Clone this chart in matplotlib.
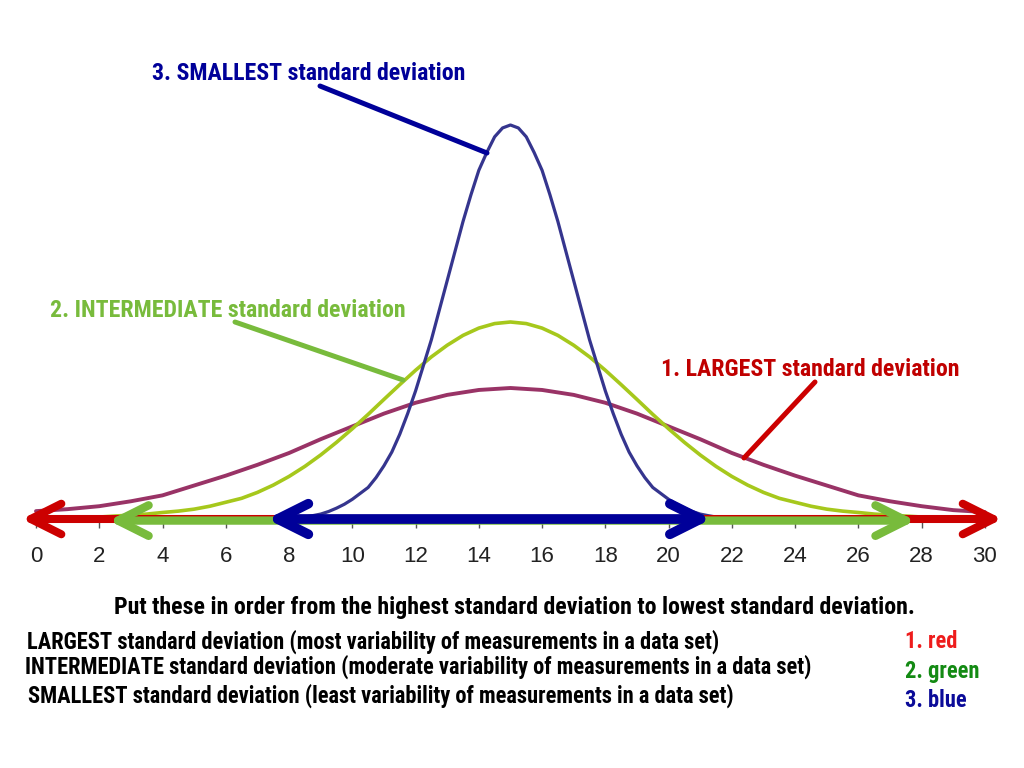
import matplotlib
matplotlib.use('Agg')
import matplotlib.pyplot as plt
import numpy as np
from matplotlib import font_manager
from matplotlib.font_manager import FontProperties
from matplotlib.textpath import TextPath
from matplotlib.patches import FancyArrowPatch

# look for a condensed face (the slide uses a narrow bold sans)
fonts = font_manager.fontManager.ttflist
def is_bold(f):
    w = f.weight
    return (w in ('bold', 'heavy', 'black', 'demibold')) or (isinstance(w, int) and w >= 600)
def is_narrow(f):
    return ('Narrow' in f.name or 'Condensed' in f.name
            or f.stretch in ('condensed', 'semi-condensed', 'extra-condensed', 'ultra-condensed')
            or (isinstance(f.stretch, int) and f.stretch < 500))
def pick(bold):
    hits = [f for f in fonts if is_narrow(f) and is_bold(f) == bold and f.style == 'normal']
    for pref in ['Liberation Sans Narrow', 'Roboto Condensed', 'Open Sans', 'DejaVu Sans']:
        for f in hits:
            if f.name.startswith(pref):
                return FontProperties(fname=f.fname)
    if hits:
        return FontProperties(fname=hits[0].fname)
    return FontProperties(family='Liberation Sans', weight='bold' if bold else 'normal')

fp_bold = pick(True)
fp_tick = FontProperties(family='Liberation Sans')

# ---- data ----
x_red = np.arange(0, 31, 1)
red_curve = [0.4, 0.5, 0.65, 0.9, 1.2, 1.7, 2.2, 2.75, 3.35, 4.05, 4.7, 5.35, 5.9, 6.3, 6.55, 6.65,
             6.55, 6.3, 5.9, 5.35, 4.7, 4.05, 3.35, 2.75, 2.2, 1.7, 1.2, 0.9, 0.65, 0.45, 0.35]
x_green = np.arange(0, 30.5, 0.5)
green_curve = [0.05, 0.05, 0.05, 0.08, 0.1, 0.15, 0.2, 0.25, 0.33, 0.4, 0.5, 0.65, 0.85, 1.05, 1.35,
               1.72, 2.16, 2.67, 3.25, 3.89, 4.58, 5.31, 6.07, 6.82, 7.55, 8.23, 8.82, 9.32, 9.69, 9.92,
               10.0,
               9.92, 9.69, 9.32, 8.82, 8.23, 7.55, 6.82, 6.07, 5.31, 4.58, 3.89, 3.25, 2.67, 2.16, 1.72,
               1.35, 1.05, 0.85, 0.65, 0.5, 0.4, 0.33, 0.25, 0.2, 0.15, 0.1, 0.08, 0.05, 0.05, 0.05]
x_blue = np.arange(8, 22.25, 0.25)
blue_curve = [0.05, 0.07, 0.1, 0.17, 0.25, 0.38, 0.55, 0.75, 1.0, 1.3, 1.6, 2.1, 2.7, 3.4, 4.3,
              5.35, 6.5, 7.8, 9.1, 10.6, 12.1, 13.6, 15.1, 16.45, 17.7, 18.6, 19.4, 19.85,
              20.0,
              19.85, 19.4, 18.6, 17.7, 16.45, 15.1, 13.6, 12.1, 10.6, 9.1, 7.8, 6.5, 5.35,
              4.3, 3.4, 2.7, 2.1, 1.6, 1.3, 1.0, 0.75, 0.55, 0.38, 0.25, 0.17, 0.1, 0.07, 0.05]

# arrow spans (start, end, height)
red_span = (-0.45, 30.55, 0.0)
green_span = (2.3, 27.8, -0.08)
blue_span = (7.3, 21.35, 0.0)

xticks = list(range(0, 31, 2))

c_red_curve = '#993366'
c_green_curve = '#a6c81c'
c_blue_curve = '#35358e'
c_red = '#cc0000'
c_green = '#78bb3c'
c_blue = '#000099'

# pixel layout helpers (figure is 1024x768, axes fills it)
X0, SX = 36.0, 31.63
Y0, SY = 519.0, 19.7
def px2x(p): return (p - X0) / SX
def px2y(p): return (Y0 - p) / SY

fig = plt.figure(figsize=(10.24, 7.68), dpi=100, facecolor='w')
ax = fig.add_axes([0, 0, 1, 1])
ax.set_xlim(px2x(0), px2x(1024))
ax.set_ylim(px2y(768), px2y(0))

# curves
ax.plot(x_red, red_curve, color=c_red_curve, lw=2.8, solid_capstyle='round', zorder=3)
ax.plot(x_green, green_curve, color=c_green_curve, lw=2.6, solid_capstyle='round', zorder=3)
ax.plot(x_blue, blue_curve, color=c_blue_curve, lw=2.3, solid_capstyle='round', zorder=3)

# double arrows on the axis
def dbl_arrow(span, color, lw, z):
    a = FancyArrowPatch((span[0], span[2]), (span[1], span[2]),
                        arrowstyle='<->,head_length=22,head_width=11', mutation_scale=1,
                        lw=lw, color=color, shrinkA=0, shrinkB=0,
                        capstyle='round', joinstyle='round', zorder=z)
    ax.add_patch(a)

dbl_arrow(red_span, c_red, 5.8, 5)
dbl_arrow(green_span, c_green, 6.0, 6)
dbl_arrow(blue_span, c_blue, 7.0, 7)

# axis / ticks
for s in ['top', 'right', 'left']:
    ax.spines[s].set_visible(False)
ax.spines['bottom'].set_position(('data', 0))
ax.spines['bottom'].set_color('none')
ax.set_yticks([])
ax.set_xticks(xticks)
ax.set_xticklabels([str(v) for v in xticks], fontproperties=fp_tick, color='#222222')
for t in ax.get_xticklabels():
    t.set_fontsize(16)
ax.tick_params(axis='x', length=6.5, width=1, color='#555555', pad=13)

# labels: fit to the reference width, but never taller than its cap height
renderer = fig.canvas.get_renderer()
cap_ratio = TextPath((0, 0), 'H', size=100, prop=fp_bold).get_extents().height / 100.0
def label(txt, left, base, width, color, cap=17, center=False):
    xpos = left + width / 2 if center else left
    t = ax.text(px2x(xpos), px2y(base), txt, ha='center' if center else 'left',
                va='baseline', color=color, fontproperties=fp_bold, zorder=8)
    t.set_fontsize(16)
    w = t.get_window_extent(renderer).width
    size_w = 16 * width / w
    size_h = cap / cap_ratio * 72 / fig.dpi
    t.set_fontsize(min(size_w, size_h))
    return t

label('3. SMALLEST standard deviation', 145, 80, 328, c_blue, center=True)
label('2. INTERMEDIATE standard deviation', 43, 317, 370, c_green, center=True)
label('1. LARGEST standard deviation', 653, 376, 315, '#c00000', center=True)

label('Put these in order from the highest standard deviation to lowest standard deviation.',
      97, 614, 835, 'black', center=True)
label('LARGEST standard deviation (most variability of measurements in a data set)',
      27, 649, 772, 'black', cap=16)
label('INTERMEDIATE standard deviation (moderate variability of measurements in a data set)',
      25, 674, 873, 'black', cap=16)
label('SMALLEST standard deviation (least variability of measurements in a data set)',
      28, 703, 784, 'black', cap=16)
label('1. red', 905, 648, 55, '#ee1c1c', cap=16)
label('2. green', 905, 678, 80, '#138a13', cap=16)
label('3. blue', 905, 707, 66, '#0b0b99', cap=16)

# leader lines from labels to curves
def leader(p0, p1, color):
    ax.annotate('', xy=(px2x(p1[0]), px2y(p1[1])), xytext=(px2x(p0[0]), px2y(p0[1])),
                arrowprops=dict(arrowstyle='-', color=color, lw=3.6, shrinkA=0, shrinkB=0),
                zorder=4)

leader((320, 86), (487, 153), c_blue)
leader((235, 322), (403, 380), c_green)
leader((815, 382), (744, 458), c_red)

fig.savefig('out.png', dpi=100, facecolor='w')
